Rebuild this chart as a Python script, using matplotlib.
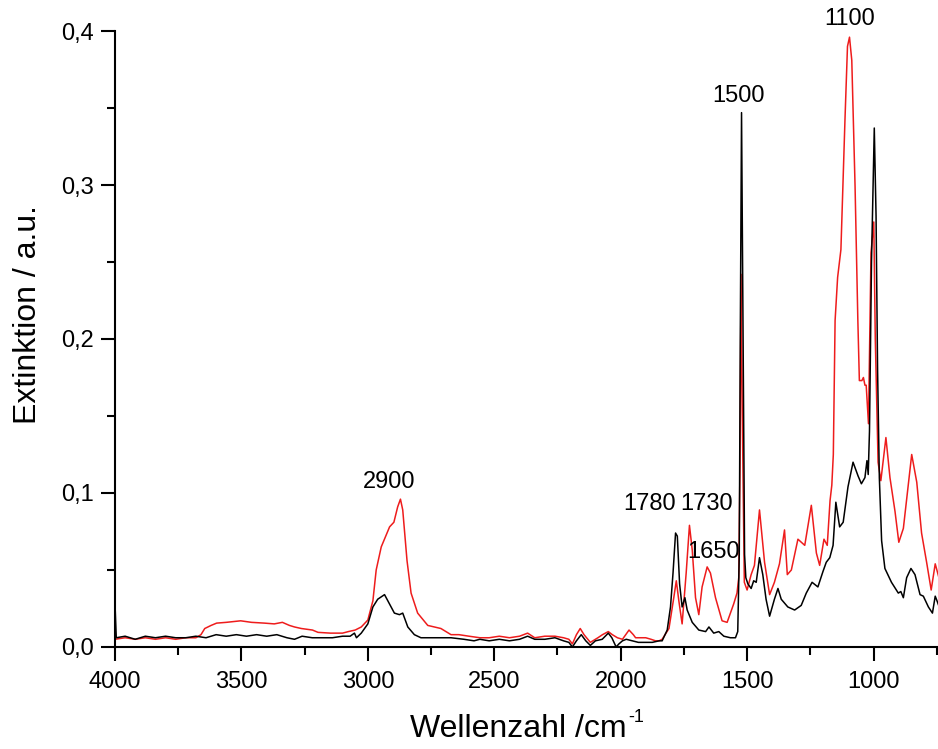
import matplotlib

matplotlib.use("Agg")
import matplotlib.pyplot as plt
from matplotlib.ticker import FuncFormatter, MultipleLocator

# wavenumber / extinction
black_wn = [
    4000, 3995, 3960, 3920, 3880, 3840, 3800, 3760, 3720, 3680, 3640, 3600, 3560, 3520,
    3480, 3440, 3400, 3360, 3320, 3290, 3260, 3220, 3180, 3140, 3100, 3070, 3053, 3045,
    3026, 3000, 2980, 2961, 2934, 2921, 2895, 2875, 2862, 2842, 2816, 2790, 2763, 2720,
    2671, 2620, 2580, 2557, 2520, 2480, 2440, 2400, 2368, 2340, 2300, 2260, 2226, 2205,
    2191, 2175, 2156, 2138, 2120, 2100, 2073, 2049, 2035, 2018, 2007, 1993, 1978, 1954,
    1930, 1914, 1895, 1875, 1848, 1836, 1816, 1803, 1793, 1783, 1776, 1767, 1757, 1746,
    1737, 1717, 1691, 1664, 1651, 1632, 1612, 1592, 1566, 1546, 1537, 1531, 1527, 1522,
    1516, 1510, 1505, 1497, 1484, 1474, 1464, 1451, 1438, 1425, 1411, 1392, 1378, 1365,
    1339, 1312, 1286, 1266, 1243, 1220, 1200, 1187, 1173, 1160, 1149, 1134, 1120, 1101,
    1081, 1061, 1048, 1034, 1026, 1021, 1016, 1008, 997, 990, 984, 977, 968, 955, 929,
    902, 892, 882, 869, 852, 836, 816, 803, 783, 767, 756, 749, 738,
]
black_ext = [
    0.028, 0.006, 0.007, 0.005, 0.007, 0.006, 0.007, 0.006, 0.006, 0.007, 0.006, 0.008, 0.007, 0.008,
    0.007, 0.008, 0.007, 0.008, 0.006, 0.005, 0.007, 0.006, 0.006, 0.006, 0.007, 0.007, 0.009, 0.006,
    0.009, 0.015, 0.026, 0.031, 0.034, 0.030, 0.022, 0.021, 0.022, 0.013, 0.008, 0.006, 0.006, 0.006,
    0.006, 0.005, 0.004, 0.005, 0.004, 0.005, 0.004, 0.005, 0.007, 0.005, 0.005, 0.006, 0.004, 0.003,
    0.000, 0.004, 0.008, 0.004, 0.001, 0.004, 0.005, 0.009, 0.006, 0.000, 0.002, 0.004, 0.005, 0.004,
    0.003, 0.003, 0.003, 0.003, 0.004, 0.004, 0.011, 0.026, 0.048, 0.074, 0.072, 0.041, 0.026, 0.032,
    0.024, 0.016, 0.011, 0.010, 0.013, 0.009, 0.010, 0.007, 0.006, 0.006, 0.010, 0.060, 0.200, 0.347,
    0.200, 0.060, 0.045, 0.041, 0.038, 0.043, 0.042, 0.058, 0.047, 0.031, 0.020, 0.031, 0.038, 0.031,
    0.026, 0.024, 0.027, 0.035, 0.042, 0.039, 0.049, 0.055, 0.058, 0.066, 0.094, 0.078, 0.081, 0.104,
    0.120, 0.111, 0.106, 0.110, 0.121, 0.112, 0.140, 0.250, 0.337, 0.280, 0.180, 0.110, 0.069, 0.051, 0.042,
    0.035, 0.036, 0.032, 0.045, 0.051, 0.047, 0.034, 0.033, 0.026, 0.022, 0.033, 0.030, 0.025,
]

red_wn = [
    4000, 3960, 3920, 3880, 3840, 3800, 3760, 3720, 3680, 3660, 3645, 3620, 3598, 3560,
    3503, 3460, 3409, 3370, 3338, 3310, 3290, 3263, 3219, 3197, 3148, 3100, 3077, 3050,
    3026, 3000, 2980, 2967, 2947, 2914, 2897, 2882, 2871, 2862, 2845, 2829, 2803, 2763,
    2711, 2671, 2640, 2600, 2557, 2520, 2480, 2440, 2400, 2368, 2340, 2300, 2260, 2226,
    2205, 2191, 2175, 2160, 2145, 2120, 2090, 2072, 2049, 2033, 2013, 1993, 1980, 1967,
    1950, 1941, 1918, 1901, 1880, 1862, 1848, 1836, 1809, 1790, 1780, 1770, 1757, 1741,
    1728, 1717, 1704, 1691, 1678, 1658, 1645, 1625, 1599, 1579, 1553, 1540, 1533, 1528,
    1524, 1519, 1511, 1500, 1484, 1471, 1451, 1431, 1411, 1392, 1372, 1352, 1341, 1325,
    1299, 1272, 1246, 1226, 1213, 1196, 1183, 1172, 1165, 1159, 1152, 1142, 1129, 1113,
    1103, 1095, 1086, 1073, 1062, 1056, 1046, 1040, 1034, 1029, 1020, 1010, 999, 993,
    982, 971, 951, 935, 915, 900, 882, 849, 829, 810, 790, 772, 756, 738,
]
red_ext = [
    0.005, 0.006, 0.005, 0.006, 0.005, 0.006, 0.005, 0.006, 0.006, 0.008, 0.012, 0.014, 0.0155, 0.016,
    0.017, 0.016, 0.0155, 0.015, 0.016, 0.014, 0.013, 0.012, 0.011, 0.0095, 0.009, 0.009, 0.010, 0.011,
    0.013, 0.0175, 0.030, 0.050, 0.065, 0.078, 0.081, 0.091, 0.096, 0.089, 0.056, 0.035, 0.022, 0.014,
    0.012, 0.008, 0.008, 0.007, 0.006, 0.006, 0.007, 0.006, 0.007, 0.009, 0.006, 0.007, 0.007, 0.006,
    0.005, 0.002, 0.008, 0.012, 0.008, 0.003, 0.006, 0.008, 0.010, 0.008, 0.006, 0.005, 0.008, 0.011,
    0.008, 0.006, 0.006, 0.006, 0.005, 0.004, 0.004, 0.005, 0.012, 0.032, 0.043, 0.030, 0.015, 0.048,
    0.079, 0.063, 0.032, 0.021, 0.039, 0.052, 0.048, 0.032, 0.017, 0.016, 0.028, 0.035, 0.045, 0.120,
    0.242, 0.150, 0.042, 0.037, 0.047, 0.053, 0.089, 0.055, 0.034, 0.042, 0.054, 0.076, 0.047, 0.050,
    0.070, 0.066, 0.092, 0.061, 0.053, 0.070, 0.066, 0.095, 0.105, 0.125, 0.212, 0.240, 0.258, 0.342,
    0.390, 0.396, 0.381, 0.299, 0.212, 0.173, 0.173, 0.175, 0.170, 0.170, 0.145, 0.256, 0.276, 0.200,
    0.120, 0.108, 0.136, 0.110, 0.088, 0.068, 0.077, 0.125, 0.107, 0.074, 0.055, 0.037, 0.054, 0.043,
]

peak_labels = ["2900", "1780", "1730", "1650", "1500", "1100"]
peak_label_wn = [2914, 1884, 1659, 1632, 1533, 1095]
peak_label_ext = [0.107, 0.093, 0.093, 0.062, 0.358, 0.408]

plt.rcParams.update(
    {
        "font.family": ["Liberation Sans", "DejaVu Sans"],
    }
)

fig = plt.figure(figsize=(9.38, 7.49), dpi=100)
ax = fig.add_axes([0.1226, 0.1362, 0.8774, 0.8224])

ax.plot(red_wn, red_ext, color="#ee1c1c", linewidth=1.1)
ax.plot(black_wn, black_ext, color="black", linewidth=1.1)

for label, wn, ext in zip(peak_labels, peak_label_wn, peak_label_ext):
    ax.text(wn, ext, label, ha="center", va="center", fontsize=17)

ax.set_xlim(4000, 745)
ax.set_ylim(0, 0.4)
ax.xaxis.set_major_locator(MultipleLocator(500))
ax.xaxis.set_minor_locator(MultipleLocator(250))
ax.yaxis.set_major_locator(MultipleLocator(0.1))
ax.yaxis.set_minor_locator(MultipleLocator(0.05))
ax.yaxis.set_major_formatter(FuncFormatter(lambda v, _: f"{v:.1f}".replace(".", ",")))

for side in ("top", "right"):
    ax.spines[side].set_visible(False)
for side in ("left", "bottom"):
    ax.spines[side].set_linewidth(1.5)

ax.tick_params(which="major", direction="out", length=10, width=1.5, labelsize=17)
ax.tick_params(which="minor", direction="out", length=6, width=1.5)
ax.tick_params(axis="y", pad=5)
ax.tick_params(axis="x", pad=7)

xlab = ax.set_xlabel("Wellenzahl /cm", fontsize=23)
ax.set_ylabel("Extinktion / a.u.", fontsize=23)
ax.xaxis.set_label_coords(0.49, -0.108)
ax.yaxis.set_label_coords(-0.088, 0.54)
# superscript -1 after "cm", drawn separately so it keeps a plain hyphen
ax.annotate("-1", xy=(1, 1), xycoords=xlab, xytext=(1, 3), textcoords="offset points",
            ha="left", va="top", fontsize=13)

fig.savefig("out.png", dpi=100)
